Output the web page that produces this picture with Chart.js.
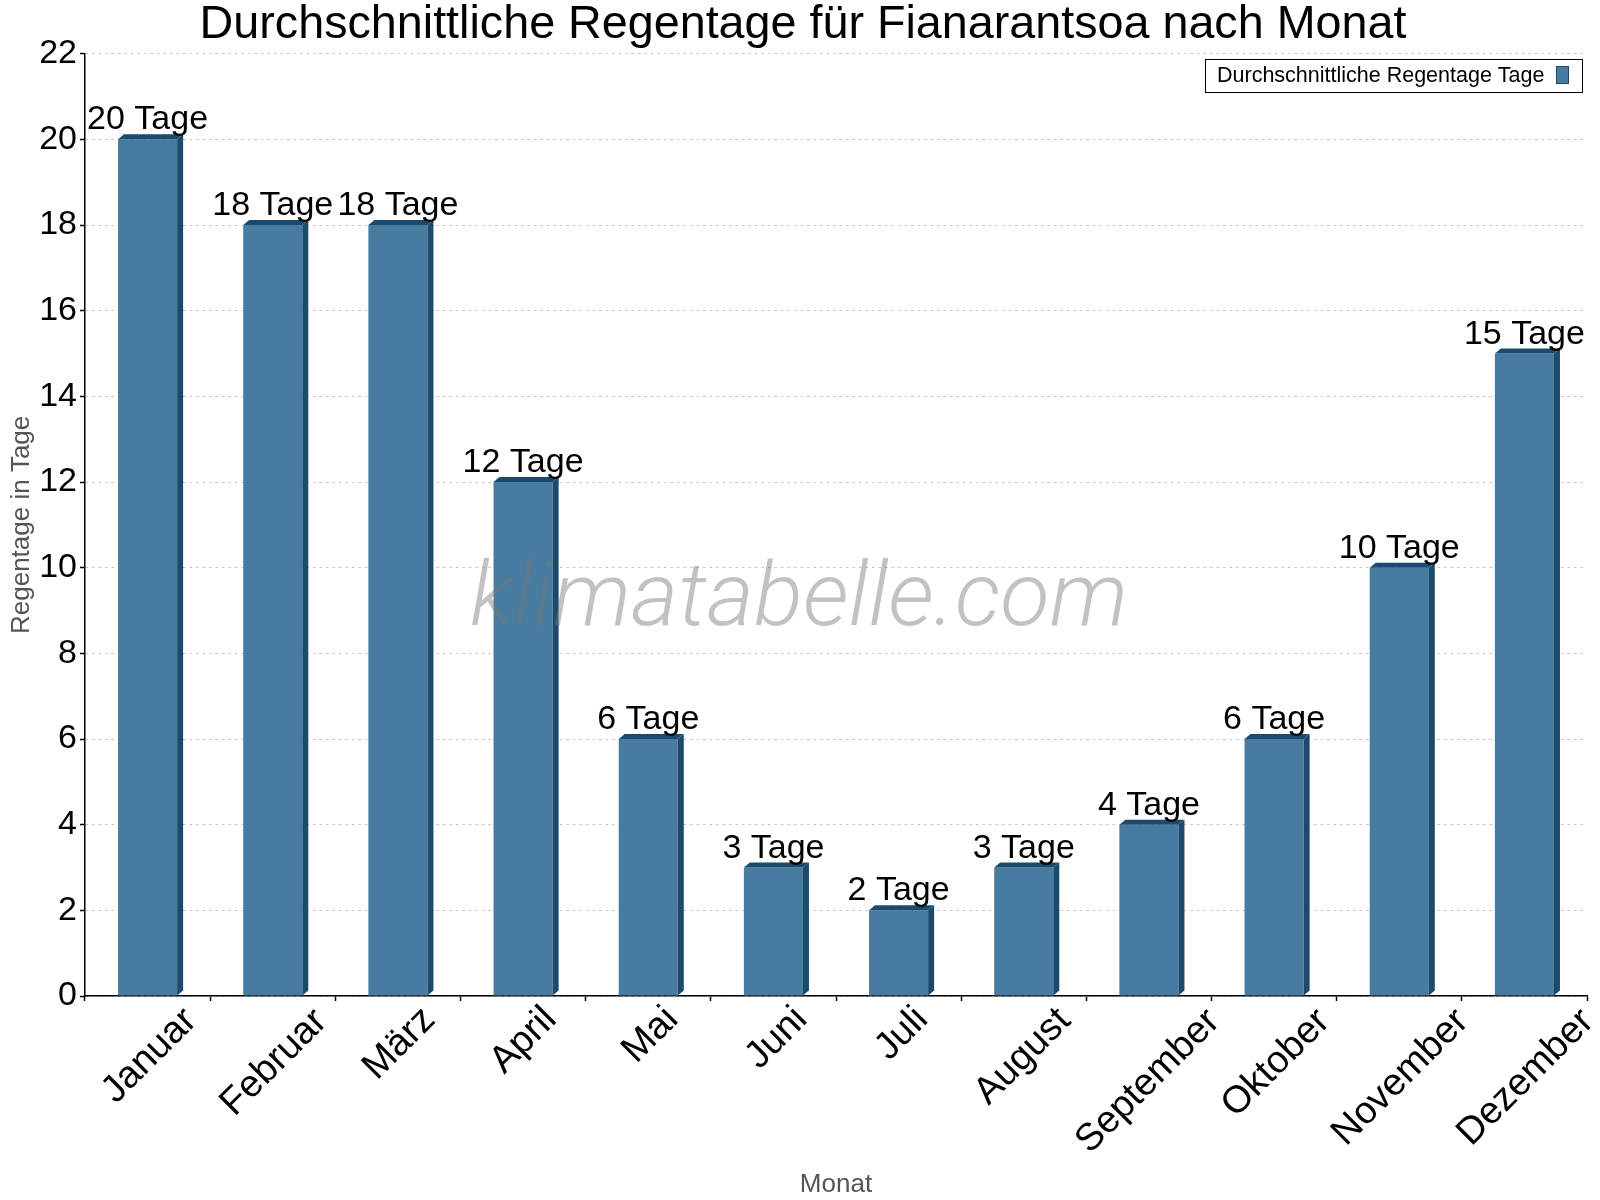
<!DOCTYPE html>
<html>
<head>
<meta charset="utf-8">
<script src="https://cdn.jsdelivr.net/npm/chart.js@4"></script>
<style>
  html, body { margin: 0; padding: 0; background: #fff; }
  #wrap { width: 1600px; height: 1200px; }
</style>
</head>
<body>
<div id="wrap"><canvas id="rainChart" width="1600" height="1200"></canvas></div>
<script>
// Daten
const monate = ['Januar', 'Februar', 'März', 'April', 'Mai', 'Juni', 'Juli', 'August', 'September', 'Oktober', 'November', 'Dezember'];
const regentage = [20, 18, 18, 12, 6, 3, 2, 3, 4, 6, 10, 15];
const yMin = 0;
const yMax = 22;
const yStep = 2;

const titel = 'Durchschnittliche Regentage für Fianarantsoa nach Monat';
const serienName = 'Durchschnittliche Regentage Tage';
const einheit = ' Tage';

const FONT = '"Liberation Sans", Arial, sans-serif';
const frontColor = '#477ba0';
const darkColor = '#1b4a6c';
const depthX = 6, depthY = 5;

// 3D-Balken, Beschriftungen, Wasserzeichen, Legende
const extras = {
    id: 'extras',
    afterDatasetsDraw(chart) {
        const ctx = chart.ctx;
        const meta = chart.getDatasetMeta(0);
        ctx.save();
        meta.data.forEach((bar, i) => {
            const p = bar.getProps(['x', 'y', 'base', 'width'], true);
            const x0 = p.x - p.width / 2, x1 = p.x + p.width / 2;
            ctx.fillStyle = darkColor;
            // Oberseite
            ctx.beginPath();
            ctx.moveTo(x0, p.y);
            ctx.lineTo(x0 + depthX, p.y - depthY);
            ctx.lineTo(x1 + depthX, p.y - depthY);
            ctx.lineTo(x1, p.y);
            ctx.closePath();
            ctx.fill();
            // rechte Seite
            ctx.beginPath();
            ctx.moveTo(x1, p.y);
            ctx.lineTo(x1 + depthX, p.y - depthY);
            ctx.lineTo(x1 + depthX, p.base - depthY);
            ctx.lineTo(x1, p.base);
            ctx.closePath();
            ctx.fill();
            // Wert
            ctx.fillStyle = '#000';
            ctx.font = '34px ' + FONT;
            ctx.textAlign = 'center';
            ctx.textBaseline = 'alphabetic';
            ctx.fillText(regentage[i] + einheit, p.x, p.y - depthY - 5);
        });

        // Wasserzeichen
        ctx.font = 'italic 300 88px Roboto';
        ctx.textAlign = 'left';
        const w = ctx.measureText('klimatabelle.com').width;
        ctx.translate(470, 625);
        ctx.scale(658 / w, 1);
        ctx.fillStyle = 'rgba(120,120,120,0.45)';
        ctx.fillText('klimatabelle.com', 0, 0);
        ctx.restore();
    },
    afterDraw(chart) {
        const ctx = chart.ctx;
        const xs = chart.scales.x;
        ctx.save();
        // x-Beschriftungen, 45° gedreht, Box zentriert unter der Kategorie
        ctx.font = '38px ' + FONT;
        ctx.fillStyle = '#000';
        ctx.textAlign = 'left';
        ctx.textBaseline = 'alphabetic';
        const a = -Math.PI / 4;
        const cos = Math.cos(a), sin = Math.sin(a);
        monate.forEach((lab, i) => {
            const cx = xs.getPixelForValue(i);
            const m = ctx.measureText(lab);
            const pts = [
                [-m.actualBoundingBoxLeft, -m.actualBoundingBoxAscent],
                [m.actualBoundingBoxRight, -m.actualBoundingBoxAscent],
                [-m.actualBoundingBoxLeft, m.actualBoundingBoxDescent],
                [m.actualBoundingBoxRight, m.actualBoundingBoxDescent]
            ].map(([px, py]) => [px * cos - py * sin, px * sin + py * cos]);
            const minX = Math.min(...pts.map(q => q[0]));
            const maxX = Math.max(...pts.map(q => q[0]));
            const minY = Math.min(...pts.map(q => q[1]));
            ctx.save();
            ctx.translate(cx - (minX + maxX) / 2, 1003 - minY);
            ctx.rotate(a);
            ctx.fillText(lab, 0, 0);
            ctx.restore();
        });

        // Legende
        ctx.fillStyle = '#fff';
        ctx.fillRect(1205, 59, 377, 33);
        ctx.strokeStyle = '#000';
        ctx.lineWidth = 1;
        ctx.strokeRect(1205.5, 59.5, 377, 33);
        ctx.fillStyle = '#000';
        ctx.font = '21.5px ' + FONT;
        ctx.textBaseline = 'middle';
        ctx.fillText(serienName, 1217, 76);
        ctx.fillStyle = frontColor;
        ctx.fillRect(1556, 66, 12, 17);
        ctx.strokeStyle = darkColor;
        ctx.strokeRect(1556.5, 66.5, 12, 17);
        ctx.restore();
    }
};

const ctx = document.getElementById('rainChart').getContext('2d');
const rainChart = new Chart(ctx, {
    type: 'bar',
    data: {
        labels: monate,
        datasets: [{
            label: serienName,
            data: regentage,
            backgroundColor: frontColor,
            borderWidth: 0,
            barPercentage: 0.472,
            categoryPercentage: 1
        }]
    },
    options: {
        responsive: false,
        devicePixelRatio: 1,
        animation: false,
        layout: { padding: { top: 0, right: 0, bottom: 0, left: 6 } },
        scales: {
            x: {
                offset: true,
                afterFit: scale => { scale.height = 204; },
                grid: {
                    display: true,
                    drawOnChartArea: false,
                    drawTicks: true,
                    offset: true,
                    tickLength: 5,
                    tickColor: '#000',
                    tickWidth: 1.5
                },
                border: { display: true, color: '#000', width: 1.5 },
                ticks: { display: false },
                title: {
                    display: true,
                    text: 'Monat',
                    color: '#555',
                    font: { family: FONT, size: 26 },
                    padding: { top: 0, bottom: 0 }
                }
            },
            y: {
                min: yMin,
                max: yMax,
                afterFit: scale => { scale.width = 79; },
                ticks: {
                    stepSize: yStep,
                    color: '#000',
                    padding: 3,
                    font: { family: FONT, size: 34 }
                },
                grid: {
                    color: '#c4c4c4',
                    lineWidth: 1,
                    tickLength: 5,
                    tickColor: '#000',
                    tickWidth: 1.5
                },
                border: { display: true, color: '#000', width: 1.5, dash: [2.5, 4] },
                title: {
                    display: true,
                    text: 'Regentage in Tage',
                    color: '#555',
                    font: { family: FONT, size: 26 },
                    padding: { top: 0, bottom: 0 }
                }
            },
            // leerer Rand rechts
            rechts: {
                position: 'right',
                afterFit: scale => { scale.width = 13; },
                grid: { display: false },
                border: { display: false },
                ticks: { display: false }
            }
        },
        plugins: {
            legend: { display: false },
            tooltip: { enabled: false },
            title: {
                display: true,
                text: titel,
                color: '#000',
                font: { family: FONT, size: 46.7, weight: 'normal', lineHeight: 1 },
                padding: { top: 2, bottom: 5 }
            }
        }
    },
    plugins: [extras]
});
</script>
</body>
</html>
